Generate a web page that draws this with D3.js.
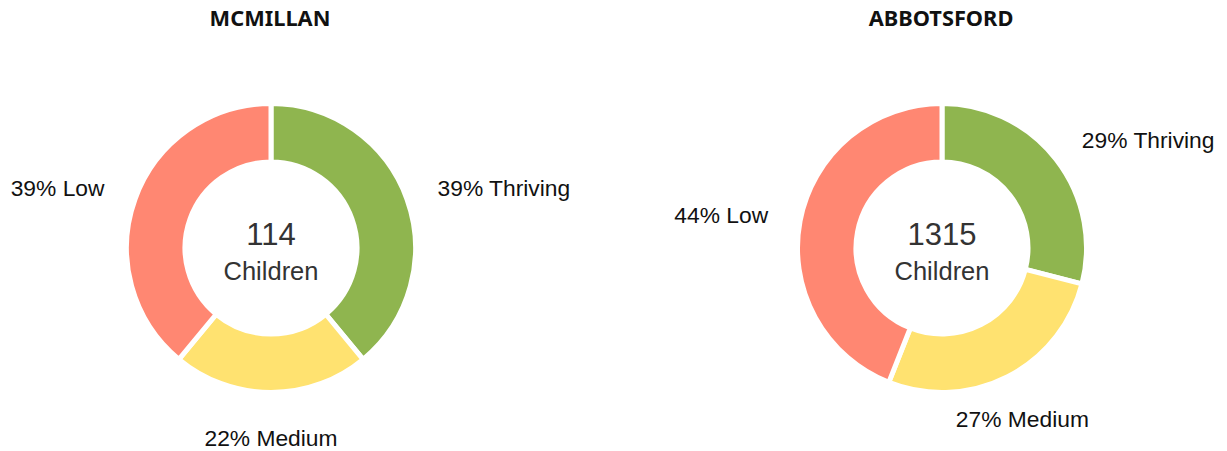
<!DOCTYPE html>
<html>
<head>
<meta charset="utf-8">
<script src="https://cdn.jsdelivr.net/npm/d3@7"></script>
<style>
  html, body { margin: 0; padding: 0; background: #fff; }
  svg { display: block; }
</style>
</head>
<body>
<svg id="chart" width="1227" height="451"></svg>
<script>
// ---- data ----
const schools = ["MCMILLAN", "ABBOTSFORD"];
const totals = [114, 1315];
const categories = ["Thriving", "Medium", "Low"];
const mcmillanPct = [39, 22, 39];
const abbotsfordPct = [29, 27, 44];
const seriesPct = [mcmillanPct, abbotsfordPct];
const centerLabel = "Children";

// ---- styles / layout ----
const colors = { Thriving: "#8fb54f", Medium: "#ffe270", Low: "#ff8772" };
const centersX = [271, 942];
const cy = 248;
const outerR = 144.5, innerR = 86;
const labelR = 177;

const svg = d3.select("#chart");

const pie = d3.pie().sort(null).value(d => d.value);
const arc = d3.arc().innerRadius(innerR).outerRadius(outerR);

schools.forEach((name, i) => {
  const data = categories.map((c, k) => ({ cat: c, value: seriesPct[i][k] }));
  const g = svg.append("g").attr("transform", `translate(${centersX[i]},${cy})`);

  // title
  svg.append("text")
    .attr("x", centersX[i] - 1)
    .attr("y", 26)
    .attr("text-anchor", "middle")
    .attr("font-family", "'Noto Sans', 'Open Sans', sans-serif")
    .attr("font-weight", 700)
    .attr("font-size", 21.8)
    .attr("fill", "#111")
    .text(name);

  const arcs = pie(data);
  g.selectAll("path.slice")
    .data(arcs)
    .join("path")
    .attr("class", "slice")
    .attr("d", arc)
    .attr("fill", d => colors[d.data.cat])
    .attr("stroke", "#fff")
    .attr("stroke-width", 5)
    .attr("stroke-linejoin", "miter");

  // outside labels
  g.selectAll("text.lbl")
    .data(arcs)
    .join("text")
    .attr("class", "lbl")
    .each(function(d) {
      const a = (d.startAngle + d.endAngle) / 2;
      let x = Math.sin(a) * labelR;
      let y = -Math.cos(a) * labelR;
      const deg = a * 180 / Math.PI;
      let anchor, baseline;
      if (Math.abs(deg - 180) <= 30 || deg <= 30 || deg >= 330) {
        anchor = "middle";
        baseline = (deg > 90 && deg < 270) ? "hanging" : "auto";
        if (baseline === "hanging") y += 4;
      } else {
        anchor = x > 0 ? "start" : "end";
        baseline = "central";
      }
      d3.select(this)
        .attr("x", x)
        .attr("y", y)
        .attr("text-anchor", anchor)
        .attr("dominant-baseline", baseline);
    })
    .attr("font-family", "'Liberation Sans', Arial, sans-serif")
    .attr("font-size", 22.8)
    .attr("fill", "#111")
    .text(d => `${d.data.value}% ${d.data.cat}`);

  // center text
  g.append("text")
    .attr("x", 0).attr("y", -3)
    .attr("text-anchor", "middle")
    .attr("font-family", "'Liberation Sans', Arial, sans-serif")
    .attr("font-size", 31)
    .attr("fill", "#333")
    .text(totals[i]);
  g.append("text")
    .attr("x", 0).attr("y", 32)
    .attr("text-anchor", "middle")
    .attr("font-family", "'Liberation Sans', Arial, sans-serif")
    .attr("font-size", 25.5)
    .attr("fill", "#333")
    .text(centerLabel);
});
</script>
</body>
</html>
